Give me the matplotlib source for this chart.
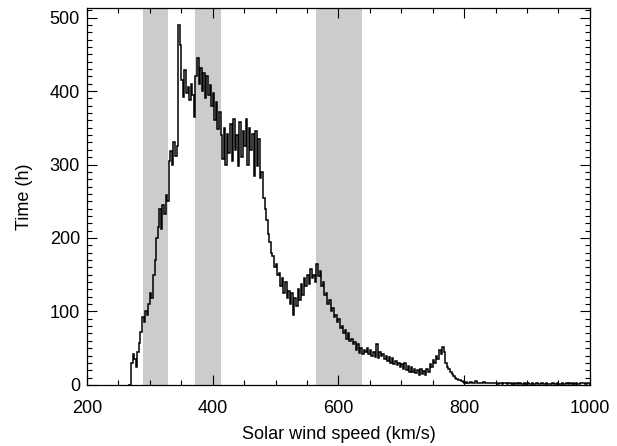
import numpy as np
import matplotlib
matplotlib.use("Agg")
import matplotlib.pyplot as plt
from matplotlib.ticker import MultipleLocator

# histogram of solar wind speed, 2.5 km/s bins starting at 265 km/s
bin_start = 265
bin_width = 2.5
hours = [
    0, 0, 30, 42, 35, 25, 45, 57, 72, 92, 85, 100, 95, 110,                  # 265-300
    125, 118, 150, 170, 200, 215, 240, 212, 245, 232, 258, 250,              # 300-330
    305, 318, 300, 330, 312, 325, 490, 462,                                  # 330-350
    415, 392, 428, 398, 405, 388, 410, 395, 365,                             # 350-372.5
    420, 445, 410, 432, 400, 425, 390, 420, 395, 408, 380,                   # 372.5-400
    398, 360, 385, 348, 372, 340, 308, 350, 300, 342,                        # 400-425
    315, 355, 305, 362, 320, 340, 298, 358, 310, 345,                        # 425-450
    325, 362, 300, 350, 320, 342, 285, 345, 298, 335,                        # 450-475
    282, 290, 255, 240, 225, 205, 195, 180, 175, 160,                        # 475-500
    165, 150, 152, 135, 145, 125, 140, 118, 128, 110,                        # 500-525
    125, 95, 118, 108, 130, 115, 138, 122, 145, 135,                         # 525-550
    150, 138, 158, 145, 150, 140, 165, 148, 155, 135,                        # 550-575
    140, 122, 125, 110, 115, 100, 105, 92, 95, 85,                           # 575-600
    90, 78, 80, 70, 75, 62, 70, 60, 62, 55,                                  # 600-625
    58, 48, 55, 44, 50, 42, 48, 45, 50, 42,                                  # 625-650
    48, 40, 45, 38, 55, 36, 45, 40, 42, 35,                                  # 650-675
    40, 32, 38, 30, 36, 28, 33, 27, 30, 25,                                  # 675-700
    28, 22, 30, 20, 26, 18, 24, 17, 22, 16,                                  # 700-725
    20, 14, 22, 15, 19, 13, 22, 18, 28, 24,                                  # 725-750
    34, 30, 40, 35, 48, 42, 52, 45, 30, 25,                                  # 750-775
    22, 18, 15, 12, 10, 8, 7, 6, 5, 4,                                       # 775-800
    3, 4, 3, 2, 4, 3, 2, 5, 3, 2,
    3, 2, 4, 2, 3, 2, 2, 3, 2, 2,
    3, 1, 2, 2, 1, 3, 2, 1, 2, 2,
    1, 2, 1, 3, 1, 2, 1, 1, 2, 1,
    2, 1, 1, 2, 1, 1, 3, 1, 1, 2,
    1, 1, 2, 1, 1, 1, 3, 1, 1, 2,
    1, 1, 2, 1, 1, 2, 1, 3, 1, 2,
    1, 2, 1, 1, 2, 3, 2, 1, 2, 3,                                            # 800-1000
]
edges = bin_start + bin_width * np.arange(len(hours) + 1)

# shaded speed intervals
bands = [(289, 329), (372, 413), (564, 638)]

plt.rcParams['font.family'] = ['Liberation Sans', 'DejaVu Sans']

fig = plt.figure(figsize=(6.17, 4.46), dpi=100)
ax = fig.add_axes([0.141, 0.137, 0.815, 0.845])

for lo, hi in bands:
    ax.axvspan(lo, hi, color='#cccccc', lw=0, zorder=0)

ax.stairs(hours, edges, color='black', lw=1.1, zorder=2)

ax.set_xlim(200, 1000)
ax.set_ylim(0, 513)
ax.xaxis.set_major_locator(MultipleLocator(200))
ax.xaxis.set_minor_locator(MultipleLocator(50))
ax.yaxis.set_major_locator(MultipleLocator(100))
ax.yaxis.set_minor_locator(MultipleLocator(10))
ax.tick_params(which='both', direction='in', top=True, right=True, width=0.8, labelsize=13)
ax.tick_params(which='major', length=7)
ax.tick_params(which='minor', length=3.5)
ax.tick_params(axis='x', which='major', pad=11)
ax.tick_params(axis='y', which='major', pad=5)
for sp in ax.spines.values():
    sp.set_linewidth(0.9)

ax.set_xlabel('Solar wind speed (km/s)', fontsize=13, labelpad=6)
ax.set_ylabel('Time (h)', fontsize=13, labelpad=12)

fig.savefig('out.png', dpi=100)
